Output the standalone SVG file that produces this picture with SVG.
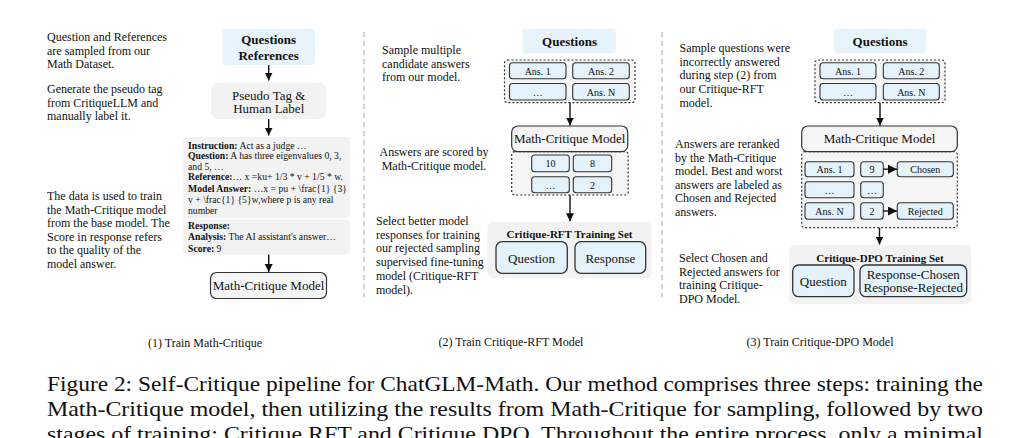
<svg xmlns="http://www.w3.org/2000/svg" width="1030" height="438" viewBox="0 0 1030 438" font-family="'Liberation Serif', 'Times New Roman', Times, serif">
<defs>
<marker id="ah" viewBox="0 0 10 10" refX="10" refY="5" markerWidth="8" markerHeight="9" markerUnits="userSpaceOnUse" orient="auto"><path d="M0,0 L10,5 L0,10 z" fill="#111"/></marker>
<marker id="ahs" viewBox="0 0 10 10" refX="10" refY="5" markerWidth="9" markerHeight="9" markerUnits="userSpaceOnUse" orient="auto"><path d="M0,0 L10,5 L0,10 z" fill="#111"/></marker>
</defs>
<style>
text{font-family:'Liberation Serif','Times New Roman',Times,serif;fill:#111}
.d{font-size:12px}
.n{font-size:13px;text-anchor:middle}
.b{font-size:13px;font-weight:bold;text-anchor:middle}
.s{font-size:10px;text-anchor:middle}
.i{font-size:9.7px}
.k{font-weight:bold}
.t{font-size:11px;font-weight:bold;text-anchor:middle}
.cap{font-size:12px;text-anchor:middle}
.fig{font-size:21.5px}
.qb{fill:#e8f4fc;stroke:none}
.gp{fill:#f2f2f2;stroke:none}
.ab{fill:#e4f2fb;stroke:#333;stroke-width:1.1}
.mb{fill:#f5f5f5;stroke:#333;stroke-width:1.2}
.dot{fill:#f5f5f5;stroke:#333;stroke-width:1.2;stroke-dasharray:2 2}
.sep{stroke:#aaa;stroke-width:1;stroke-dasharray:5 4;fill:none}
.ar{stroke:#111;stroke-width:1.4;fill:none}
</style>
<rect width="1030" height="438" fill="#fff"/>

<line class="sep" x1="364" y1="32" x2="364" y2="297"/>
<line class="sep" x1="662" y1="32" x2="662" y2="297"/>

<g id="desc1">
<text class="d" x="47" y="41">Question and References</text>
<text class="d" x="47" y="54.5">are sampled from our</text>
<text class="d" x="47" y="68">Math Dataset.</text>
<text class="d" x="47" y="93">Generate the pseudo tag</text>
<text class="d" x="47" y="106.5">from CritiqueLLM and</text>
<text class="d" x="47" y="120">manually label it.</text>
<text class="d" x="47" y="200">The data is used to train</text>
<text class="d" x="47" y="213.5">the Math-Critique model</text>
<text class="d" x="47" y="227">from the base model. The</text>
<text class="d" x="47" y="240.5">Score in response refers</text>
<text class="d" x="47" y="254">to the quality of the</text>
<text class="d" x="47" y="267.5">model answer.</text>
</g>

<g id="p1-questions">
<rect class="qb" x="222.5" y="28.5" width="92.5" height="36.5" rx="4"/>
<text class="b" x="268.7" y="44">Questions</text>
<text class="b" x="268.7" y="59.5">References</text>
</g>
<g id="p1-pseudo">
<rect class="gp" x="211" y="82.5" width="115.5" height="36.5" rx="8"/>
<text class="n" x="268.7" y="99.5">Pseudo Tag &amp;</text>
<text class="n" x="268.7" y="112.5">Human Label</text>
</g>
<g id="p1-data">
<rect class="gp" x="183" y="137" width="167" height="81" rx="3"/>
<rect class="gp" x="183" y="219.5" width="167" height="35" rx="3"/>
<text class="i" x="188" y="148.5"><tspan class="k">Instruction:</tspan> Act as a judge …</text>
<text class="i" x="188" y="159"><tspan class="k">Question:</tspan> A has three eigenvalues 0, 3,</text>
<text class="i" x="188" y="169.5">and 5, …</text>
<text class="i" x="188" y="180"><tspan class="k">Reference:</tspan>… x =ku+ 1/3 * v + 1/5 * w.</text>
<text class="i" x="188" y="191.5"><tspan class="k">Model Answer:</tspan> …x = pu + \frac{1} {3}</text>
<text class="i" x="188" y="202.5">v + \frac{1} {5}w,where p is any real</text>
<text class="i" x="188" y="214">number</text>
<text class="i" x="188" y="228.5"><tspan class="k">Response:</tspan></text>
<text class="i" x="188" y="240"><tspan class="k">Analysis:</tspan> The AI assistant's answer…</text>
<text class="i" x="188" y="251.5"><tspan class="k">Score:</tspan> 9</text>
</g>
<g id="p1-mcm">
<rect class="mb" x="210.5" y="272.5" width="116" height="26" rx="6"/>
<text class="n" x="268.5" y="290">Math-Critique Model</text>
</g>
<text class="cap" x="205" y="346.5">(1) Train Math-Critique</text>

<g id="desc2">
<text class="d" x="382" y="54">Sample multiple</text>
<text class="d" x="382" y="67.5">candidate answers</text>
<text class="d" x="382" y="81">from our model.</text>
<text class="d" x="434" y="156" text-anchor="middle">Answers are scored by</text>
<text class="d" x="434" y="169.5" text-anchor="middle">Math-Critique model.</text>
<text class="d" x="376" y="225">Select better model</text>
<text class="d" x="376" y="238.7">responses for training</text>
<text class="d" x="376" y="252.4">our rejected sampling</text>
<text class="d" x="376" y="266.1">supervised fine-tuning</text>
<text class="d" x="376" y="279.8">model (Critique-RFT</text>
<text class="d" x="376" y="293.5">model).</text>
</g>
<g id="p2-questions">
<rect class="qb" x="522.5" y="28.5" width="93.5" height="25" rx="4"/>
<text class="b" x="569.5" y="45.5">Questions</text>
</g>
<g id="p2-answers">
<rect class="dot" x="504.5" y="60" width="130.5" height="42.7" rx="3"/>
<rect class="ab" x="509.5" y="62.7" width="56.5" height="16" rx="3"/>
<rect class="ab" x="572.7" y="62.7" width="56.6" height="16" rx="3"/>
<rect class="ab" x="509.5" y="83.5" width="56.5" height="16.5" rx="3"/>
<rect class="ab" x="572.7" y="83.5" width="56.6" height="16.5" rx="3"/>
<text class="s" x="537.7" y="74.5">Ans. 1</text>
<text class="s" x="601" y="74.5">Ans. 2</text>
<text class="s" x="537.7" y="95.5">…</text>
<text class="s" x="601" y="95.5">Ans. N</text>
</g>
<g id="p2-mcm">
<rect class="dot" x="511.7" y="151.7" width="116.5" height="43.3" rx="3"/>
<rect class="mb" x="511.7" y="126" width="116" height="25.7" rx="6"/>
<text class="n" x="569.7" y="143">Math-Critique Model</text>
<rect class="ab" x="531.7" y="155" width="37.6" height="16.7" rx="3"/>
<rect class="ab" x="573.3" y="155" width="38.4" height="16.7" rx="3"/>
<rect class="ab" x="531.7" y="176.7" width="37.6" height="16" rx="3"/>
<rect class="ab" x="573.3" y="176.7" width="38.4" height="16" rx="3"/>
<text class="s" x="550.5" y="167">10</text>
<text class="s" x="592.5" y="167">8</text>
<text class="s" x="550.5" y="188.5">…</text>
<text class="s" x="592.5" y="188.5">2</text>
</g>
<g id="p2-rft">
<rect class="gp" x="487.3" y="221.7" width="164.4" height="56.6" rx="6"/>
<text class="t" x="569.5" y="238">Critique-RFT Training Set</text>
<rect class="ab" x="496" y="241.7" width="71.3" height="31.6" rx="6" style="stroke-width:1.3"/>
<rect class="ab" x="575" y="241.7" width="70.7" height="31.6" rx="6" style="stroke-width:1.3"/>
<text class="n" x="531.6" y="262.5">Question</text>
<text class="n" x="610.3" y="262.5">Response</text>
</g>
<text class="cap" x="511" y="346">(2) Train Critique-RFT Model</text>

<g id="desc3">
<text class="d" x="679.5" y="52">Sample questions were</text>
<text class="d" x="679.5" y="65.7">incorrectly answered</text>
<text class="d" x="679.5" y="79.4">during step (2) from</text>
<text class="d" x="679.5" y="93.1">our Critique-RFT</text>
<text class="d" x="679.5" y="106.8">model.</text>
<text class="d" x="675" y="148">Answers are reranked</text>
<text class="d" x="675" y="161.5">by the Math-Critique</text>
<text class="d" x="675" y="175">model. Best and worst</text>
<text class="d" x="675" y="188.5">answers are labeled as</text>
<text class="d" x="675" y="202">Chosen and Rejected</text>
<text class="d" x="675" y="215.5">answers.</text>
<text class="d" x="679" y="262">Select Chosen and</text>
<text class="d" x="679" y="275.7">Rejected answers for</text>
<text class="d" x="679" y="289.4">training Critique-</text>
<text class="d" x="679" y="303.1">DPO Model.</text>
</g>
<g id="p3-questions">
<rect class="qb" x="834.3" y="28.5" width="91.7" height="25" rx="4"/>
<text class="b" x="880" y="45.5">Questions</text>
</g>
<g id="p3-answers">
<rect class="dot" x="815" y="60" width="130" height="42.7" rx="3"/>
<rect class="ab" x="820" y="62.7" width="56" height="16" rx="3"/>
<rect class="ab" x="883.3" y="62.7" width="56" height="16" rx="3"/>
<rect class="ab" x="820" y="83.5" width="56" height="16.5" rx="3"/>
<rect class="ab" x="883.3" y="83.5" width="56" height="16.5" rx="3"/>
<text class="s" x="848" y="74.5">Ans. 1</text>
<text class="s" x="911.3" y="74.5">Ans. 2</text>
<text class="s" x="848" y="95.5">…</text>
<text class="s" x="911.3" y="95.5">Ans. N</text>
</g>
<g id="p3-mcm">
<rect class="dot" x="801.7" y="151.7" width="155.6" height="76" rx="3"/>
<rect class="mb" x="801.7" y="126" width="155.6" height="25.7" rx="6"/>
<text class="n" x="879.5" y="143">Math-Critique Model</text>
<rect class="ab" x="805" y="161.7" width="49" height="15" rx="3"/>
<rect class="ab" x="860.7" y="161.7" width="22.6" height="15" rx="3"/>
<rect class="ab" x="897.3" y="161.7" width="56" height="15" rx="3"/>
<rect class="ab" x="805" y="181.7" width="49" height="16" rx="3"/>
<rect class="ab" x="860.7" y="181.7" width="22.6" height="16" rx="3"/>
<rect class="ab" x="805" y="202.7" width="49" height="16.6" rx="3"/>
<rect class="ab" x="860.7" y="202.7" width="22.6" height="16.6" rx="3"/>
<rect class="ab" x="897.3" y="202.7" width="56" height="16.6" rx="3"/>
<text class="s" x="829.5" y="173">Ans. 1</text>
<text class="s" x="872" y="173">9</text>
<text class="s" x="925.3" y="173">Chosen</text>
<text class="s" x="829.5" y="193.5">…</text>
<text class="s" x="872" y="193.5">…</text>
<text class="s" x="829.5" y="214.5">Ans. N</text>
<text class="s" x="872" y="214.5">2</text>
<text class="s" x="925.3" y="214.5">Rejected</text>
</g>
<g id="p3-dpo">
<rect class="gp" x="789.3" y="245" width="181.7" height="59.3" rx="6"/>
<text class="t" x="880" y="261.5">Critique-DPO Training Set</text>
<rect class="ab" x="792.7" y="265" width="61.3" height="31.7" rx="6" style="stroke-width:1.3"/>
<rect class="ab" x="860" y="265" width="106.7" height="31.7" rx="6" style="stroke-width:1.3"/>
<text class="n" x="823.3" y="286">Question</text>
<text class="n" x="913.3" y="279">Response-Chosen</text>
<text class="n" x="913.3" y="292">Response-Rejected</text>
</g>
<text class="cap" x="820" y="346">(3) Train Critique-DPO Model</text>

<g id="connectors">
<line class="ar" x1="268.7" y1="65" x2="268.7" y2="80.5" marker-end="url(#ah)"/>
<line class="ar" x1="268.7" y1="119" x2="268.7" y2="135.5" marker-end="url(#ah)"/>
<line class="ar" x1="268.7" y1="254.5" x2="268.7" y2="272" marker-end="url(#ah)"/>
<line class="ar" x1="570" y1="102.7" x2="570" y2="125.5" marker-end="url(#ah)"/>
<line class="ar" x1="570" y1="195" x2="570" y2="221.2" marker-end="url(#ah)"/>
<line class="ar" x1="880" y1="102.7" x2="880" y2="125.5" marker-end="url(#ah)"/>
<line class="ar" x1="879.5" y1="227.7" x2="879.5" y2="244.5" marker-end="url(#ah)"/>
<line class="ar" x1="883.3" y1="169.2" x2="897" y2="169.2" marker-end="url(#ahs)"/>
<line class="ar" x1="883.3" y1="211" x2="897" y2="211" marker-end="url(#ahs)"/>
</g>

<g id="caption">
<text class="fig" x="47" y="391" textLength="936" lengthAdjust="spacingAndGlyphs">Figure 2: Self-Critique pipeline for ChatGLM-Math. Our method comprises three steps: training the</text>
<text class="fig" x="47" y="416" textLength="936" lengthAdjust="spacingAndGlyphs">Math-Critique model, then utilizing the results from Math-Critique for sampling, followed by two</text>
<text class="fig" x="47" y="441" textLength="936" lengthAdjust="spacingAndGlyphs">stages of training: Critique RFT and Critique DPO. Throughout the entire process, only a minimal</text>
</g>
</svg>
